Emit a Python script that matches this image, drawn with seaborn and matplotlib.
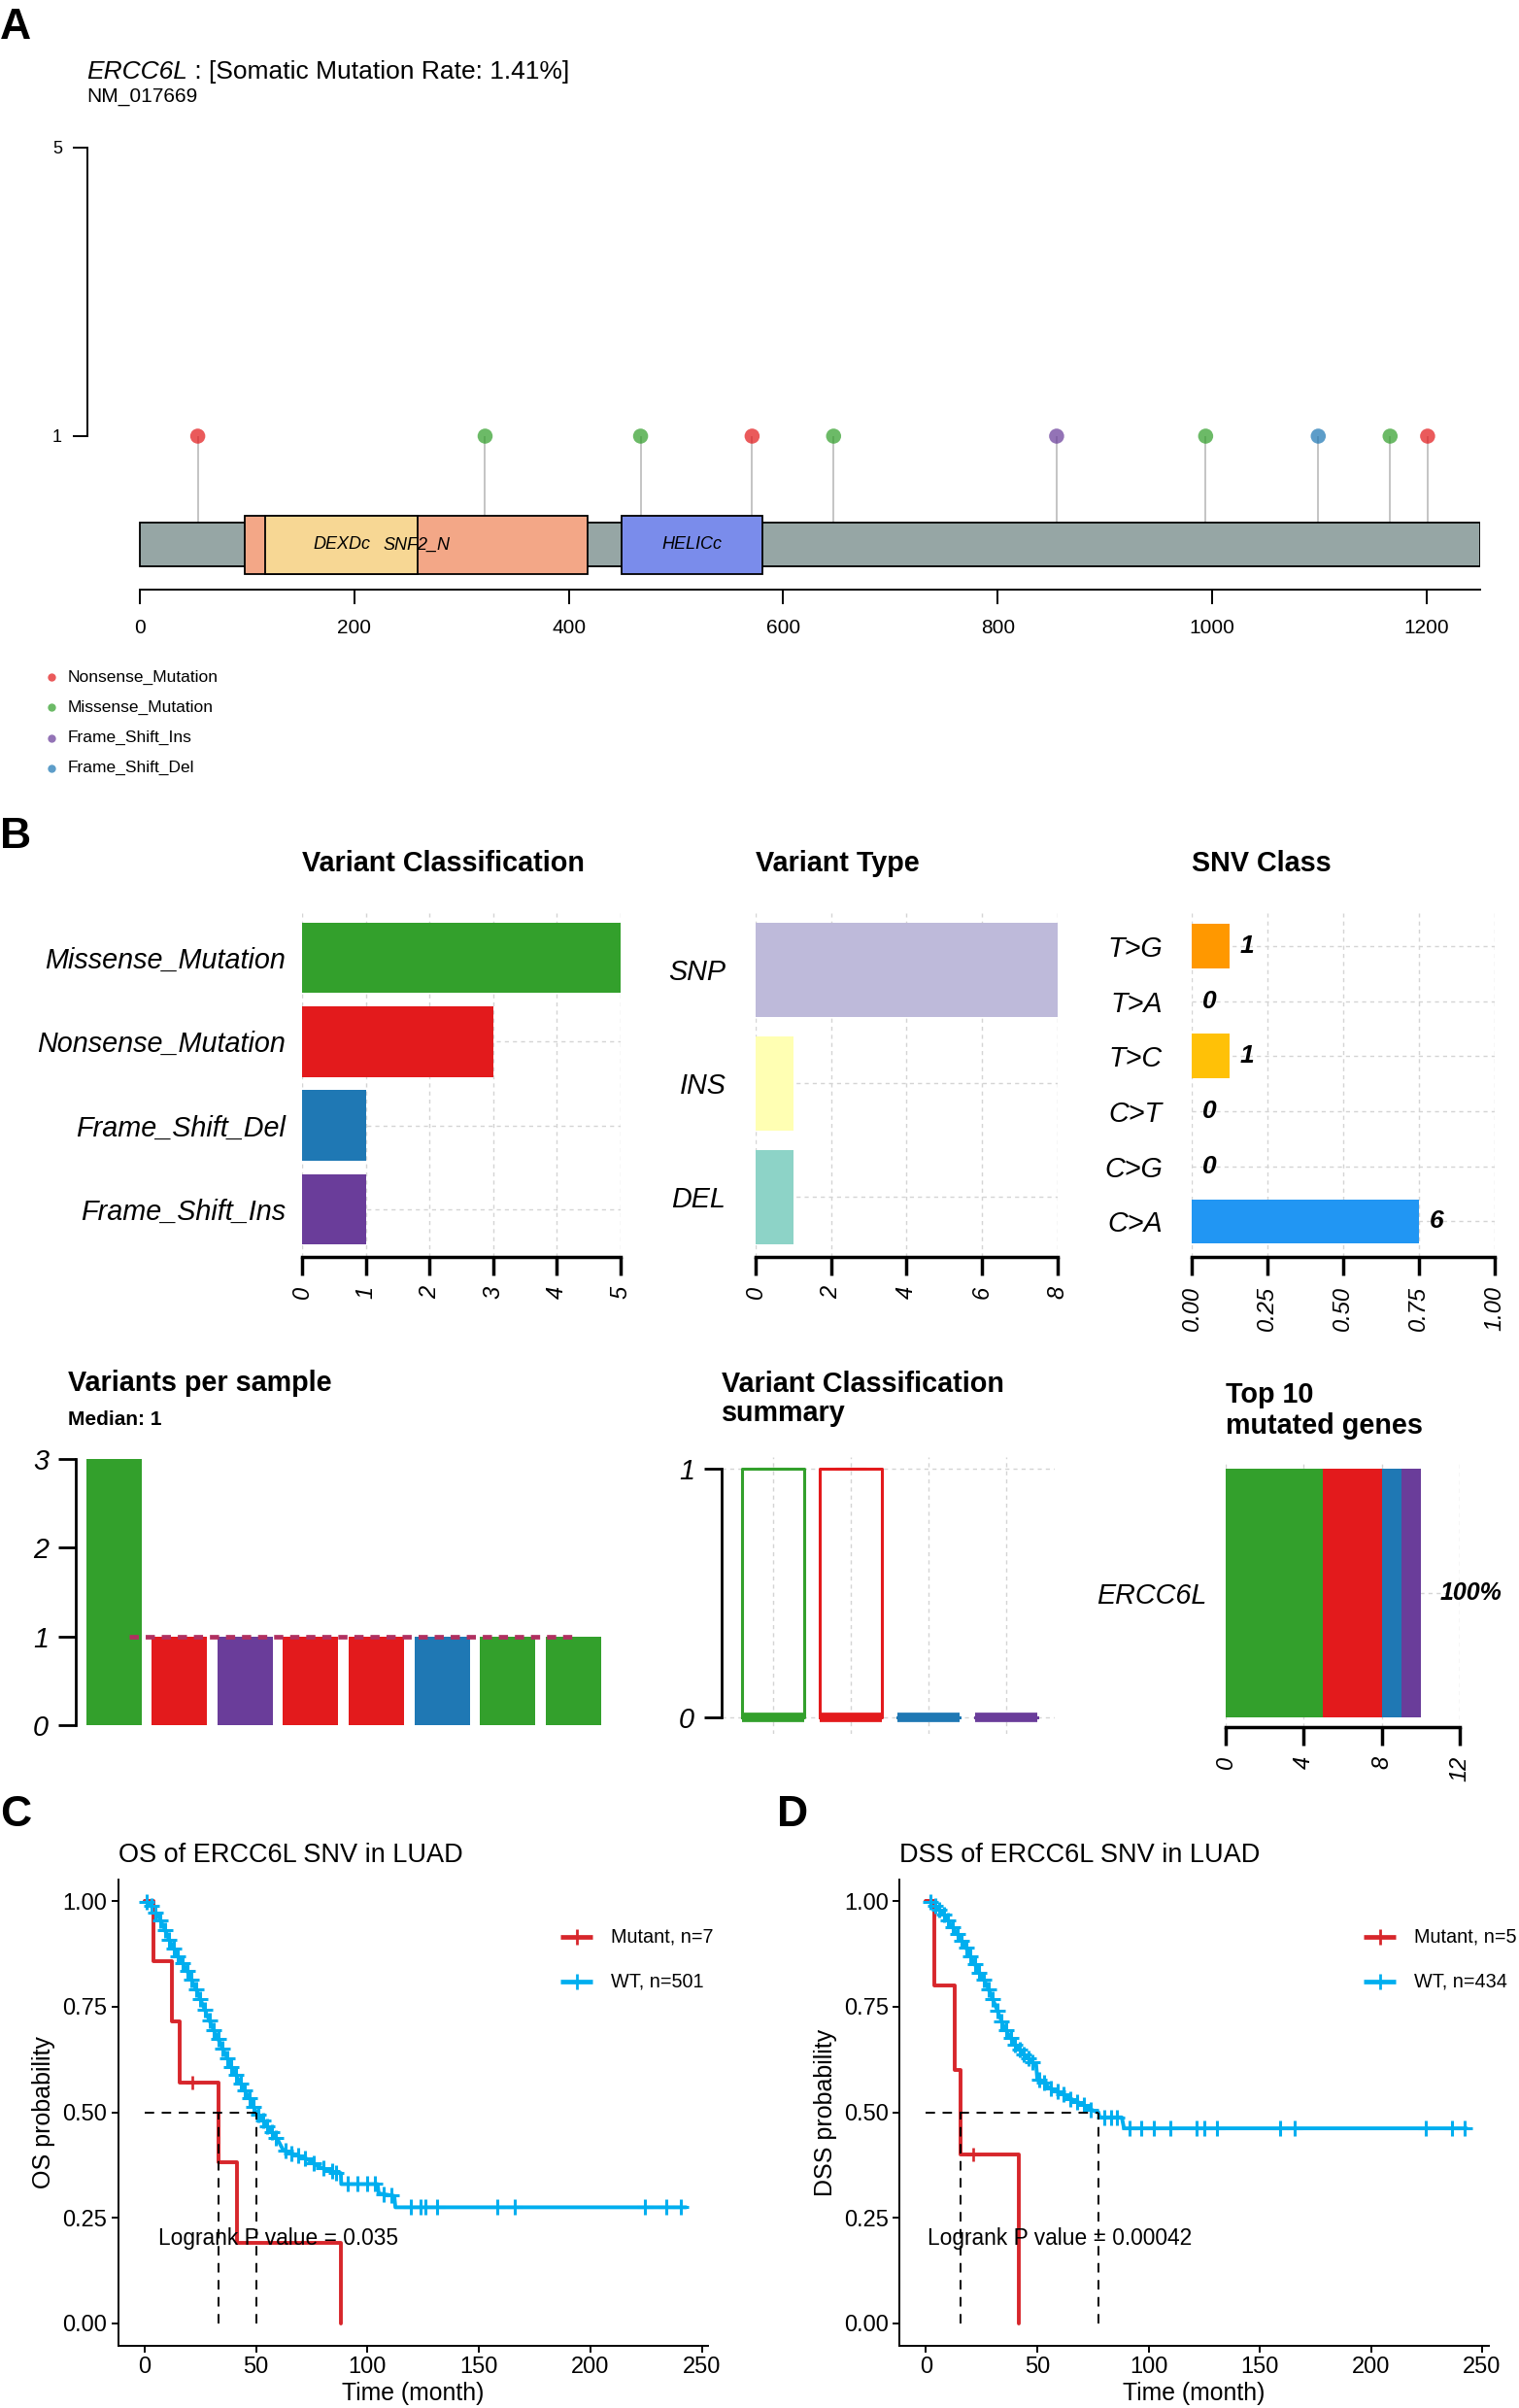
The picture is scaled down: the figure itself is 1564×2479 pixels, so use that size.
import matplotlib
matplotlib.use("Agg")
import matplotlib.pyplot as plt
from matplotlib.patches import Rectangle
import numpy as np
import pandas as pd
import seaborn as sns

W, H = 1564, 2479

# ---------------------------------------------------------------------------
# data
# ---------------------------------------------------------------------------
prot_len = 1250
dom_names = ["SNF2_N", "DEXDc", "HELICc"]
dom_start = [98, 117, 449]
dom_end = [418, 259, 581]
dom_cols = ["#F3A787", "#F7D794", "#7A8CEB"]

mut_pos = [54, 322, 467, 571, 647, 855, 994, 1099, 1166, 1201]
mut_cls = ["Nonsense_Mutation", "Missense_Mutation", "Missense_Mutation",
           "Nonsense_Mutation", "Missense_Mutation", "Frame_Shift_Ins",
           "Missense_Mutation", "Frame_Shift_Del", "Missense_Mutation",
           "Nonsense_Mutation"]
mut_n = [1, 1, 1, 1, 1, 1, 1, 1, 1, 1]
legend_cls = ["Nonsense_Mutation", "Missense_Mutation", "Frame_Shift_Ins", "Frame_Shift_Del"]

cls_colors = {"Missense_Mutation": "#33A02C", "Nonsense_Mutation": "#E31A1C",
              "Frame_Shift_Del": "#1F78B4", "Frame_Shift_Ins": "#6A3D9A"}

vc_names = ["Missense_Mutation", "Nonsense_Mutation", "Frame_Shift_Del", "Frame_Shift_Ins"]
vc_counts = [5, 3, 1, 1]

vt_names = ["SNP", "INS", "DEL"]
vt_counts = [8, 1, 1]
vt_cols = ["#BEBADA", "#FFFFB3", "#8DD3C7"]

snv_names = ["T>G", "T>A", "T>C", "C>T", "C>G", "C>A"]
snv_counts = [1, 0, 1, 0, 0, 6]
snv_cols = ["#FF9800", "#795548", "#FFC107", "#F44336", "#9C27B0", "#2196F3"]

samples = ["S1", "S2", "S3", "S4", "S5", "S6", "S7", "S8"]
smp_missense = [3, 0, 0, 0, 0, 0, 1, 1]
smp_nonsense = [0, 1, 0, 1, 1, 0, 0, 0]
smp_del = [0, 0, 0, 0, 0, 1, 0, 0]
smp_ins = [0, 0, 1, 0, 0, 0, 0, 0]

gene = "ERCC6L"

# survival: mutant groups as raw times / events, WT curves
os_mut_time = [4.0, 12.0, 15.7, 21.3, 33.3, 41.3, 88.1]
os_mut_event = [1, 1, 1, 0, 1, 1, 1]
os_wt_t = [0, 2, 4, 6, 8, 10, 12, 14, 16, 18, 20, 22, 24, 26, 28, 30, 32, 34, 36, 38,
           40, 42, 44, 46, 48, 50, 52, 54, 56, 58, 60, 62, 65, 68, 72, 75, 78, 82, 85,
           88, 88.2, 104.5, 105, 112, 112.5, 243]
os_wt_s = [1.0, 0.995, 0.98, 0.965, 0.945, 0.92, 0.898, 0.878, 0.862, 0.845, 0.825,
           0.803, 0.78, 0.755, 0.73, 0.706, 0.684, 0.662, 0.64, 0.617, 0.597, 0.578,
           0.56, 0.542, 0.525, 0.50, 0.487, 0.474, 0.46, 0.448, 0.432, 0.412, 0.404,
           0.399, 0.392, 0.382, 0.372, 0.362, 0.358, 0.356, 0.33, 0.33, 0.308, 0.302,
           0.275, 0.275]
os_wt_cens_t = [1, 3, 5, 7, 9, 11, 13, 15, 17, 19, 21, 23, 25, 27, 29, 31, 33, 35, 37,
                39, 41, 43, 45, 47, 49, 51, 53, 55, 57, 59, 63, 66, 69, 72, 76, 80, 84,
                86, 91.2, 95.5, 99.9, 103.1, 107.4, 110.7, 119.4, 123.7, 125.9, 131.3,
                158.3, 165.9, 224.4, 234.2, 240.7]
os_wt_cens_s = [0.998, 0.988, 0.972, 0.955, 0.932, 0.909, 0.888, 0.87, 0.853, 0.835,
                0.814, 0.792, 0.768, 0.743, 0.718, 0.695, 0.673, 0.651, 0.628, 0.607,
                0.588, 0.569, 0.551, 0.534, 0.512, 0.494, 0.48, 0.467, 0.454, 0.44,
                0.41, 0.402, 0.397, 0.392, 0.379, 0.367, 0.36, 0.357, 0.33, 0.33, 0.33,
                0.33, 0.306, 0.303, 0.275, 0.275, 0.275, 0.275, 0.275, 0.275, 0.275,
                0.275, 0.275]
os_median = [33.3, 50.0]

dss_mut_time = [3.9, 12.7, 15.5, 21.4, 41.5]
dss_mut_event = [1, 1, 1, 0, 1]
dss_wt_t = [0, 3, 5, 7, 9, 11, 13, 15, 17, 19, 21, 23, 25, 27, 29, 31, 33, 35, 37, 39,
            41, 43, 45, 47, 49.5, 50, 52, 55, 58, 61, 64, 67, 70, 73, 76, 77.5, 78, 88,
            89, 243]
dss_wt_s = [1.0, 0.995, 0.985, 0.975, 0.962, 0.945, 0.93, 0.915, 0.898, 0.88, 0.86,
            0.84, 0.822, 0.805, 0.78, 0.755, 0.728, 0.703, 0.685, 0.668, 0.655, 0.643,
            0.632, 0.622, 0.612, 0.58, 0.575, 0.56, 0.552, 0.545, 0.535, 0.527, 0.52,
            0.51, 0.502, 0.5, 0.488, 0.488, 0.462, 0.462]
dss_wt_cens_t = [2, 4, 6, 8, 10, 12, 14, 16, 18, 20, 22, 24, 26, 28, 30, 32, 34, 36, 38,
                 40, 42, 44, 46, 48, 51, 53, 56, 59, 62, 65, 68, 71, 74, 80, 83, 86,
                 91.3, 96.7, 102.2, 109.8, 121.8, 125.1, 130.6, 159.0, 165.5, 224.5,
                 236.5, 242]
dss_wt_cens_s = [0.998, 0.99, 0.98, 0.968, 0.954, 0.938, 0.922, 0.906, 0.889, 0.87,
                 0.85, 0.831, 0.813, 0.792, 0.767, 0.741, 0.715, 0.694, 0.676, 0.661,
                 0.649, 0.637, 0.627, 0.618, 0.578, 0.57, 0.557, 0.55, 0.542, 0.532,
                 0.525, 0.517, 0.507, 0.488, 0.488, 0.488, 0.462, 0.462, 0.462, 0.462,
                 0.462, 0.462, 0.462, 0.462, 0.462, 0.462, 0.462, 0.462]
dss_median = [15.5, 77.5]

RED = "#D7262B"
BLUE = "#00AEEF"

# ---------------------------------------------------------------------------
sns.set_style("white")
plt.rcParams["font.family"] = ["Liberation Sans", "DejaVu Sans"]
plt.rcParams.update({"axes.edgecolor": "black", "xtick.color": "black",
                     "ytick.color": "black", "text.color": "black",
                     "axes.labelcolor": "black"})

fig = plt.figure(figsize=(W / 100, H / 100), dpi=100)


def add_ax(l, t, r, b):
    return fig.add_axes([l / W, 1 - b / H, (r - l) / W, (b - t) / H])


def km_steps(times, events):
    xs, ys, cx, cy = [0.0], [1.0], [], []
    s, at_risk = 1.0, len(times)
    for t, e in sorted(zip(times, events)):
        if e:
            xs.append(t); ys.append(s)
            s = s * (at_risk - 1) / at_risk
            xs.append(t); ys.append(s)
        else:
            cx.append(t); cy.append(s)
        at_risk -= 1
    return xs, ys, cx, cy


# ---- A. lollipop ----
axA = add_ax(90, 152, 1524, 607)
axA.vlines(mut_pos, -0.2, mut_n, color="#C4C4C4", lw=1.4, zorder=1)
axA.add_patch(Rectangle((0, -0.805), prot_len, 0.605, fc="#96A6A5", ec="black",
                        lw=1.3, zorder=2))
for s, e, c in zip(dom_start, dom_end, dom_cols):
    axA.add_patch(Rectangle((s, -0.912), e - s, 0.808, fc=c, ec="black", lw=1.3, zorder=3))
for name, s, e in zip(dom_names, dom_start, dom_end):
    axA.text((s + e) / 2, -0.508, name, style="italic", ha="center", va="center",
             fontsize=13, zorder=4)
sns.scatterplot(x=mut_pos, y=mut_n, hue=mut_cls, palette=cls_colors, s=125, alpha=0.72,
                linewidth=0, legend=False, ax=axA, zorder=5)
axA.set_xlim(-48.9, prot_len)
axA.set_ylim(-1.128, 5)
for sp in ["top", "right"]:
    axA.spines[sp].set_visible(False)
axA.spines["left"].set_bounds(1, 5)
axA.spines["bottom"].set_bounds(0, prot_len)
for sp in ["left", "bottom"]:
    axA.spines[sp].set_linewidth(1.4)
axA.set_xticks(range(0, 1201, 200))
axA.set_yticks([1, 5])
axA.tick_params(axis="x", bottom=True, direction="out", length=10.8, width=1.4,
                labelsize=15, pad=11)
axA.tick_params(axis="y", left=True, direction="out", length=10.8, width=1.4,
                labelsize=13, pad=8)
axA.set_xlabel(""); axA.set_ylabel("")


# ---- B. upper bar charts ----
def bar_style(ax, xmax, xticks, xlabels, ypad):
    for sp in ["top", "right", "left"]:
        ax.spines[sp].set_visible(False)
    ax.spines["bottom"].set_linewidth(2.5)
    ax.spines["bottom"].set_bounds(0, xmax)
    ax.set_xlim(0, xmax)
    ax.set_xticks(xticks)
    ax.set_xticklabels(xlabels, rotation=90, fontstyle="italic", fontsize=17)
    ax.tick_params(axis="x", bottom=True, direction="out", length=13.7, width=2.5, pad=8)
    ax.tick_params(axis="y", left=False, length=0, pad=ypad, labelsize=20.7)
    for t in ax.get_yticklabels():
        t.set_fontstyle("italic")
    ax.grid(True, ls=(0, (3, 3)), color="#D4D4D4", lw=1.0)
    ax.set_axisbelow(True)
    ax.set_xlabel(""); ax.set_ylabel("")


axVC = add_ax(311, 940, 639, 1294)
sns.barplot(x=vc_counts, y=vc_names, hue=vc_names, palette=cls_colors, orient="h",
            width=0.84, saturation=1, linewidth=0, legend=False, ax=axVC)
bar_style(axVC, 5, range(6), [str(i) for i in range(6)], 12)
axVC.set_ylim(3.569, -0.533)

axVT = add_ax(778, 940, 1088.5, 1294)
sns.barplot(x=vt_counts, y=vt_names, hue=vt_names, palette=vt_cols, orient="h",
            width=0.83, saturation=1, linewidth=0, legend=False, ax=axVT)
bar_style(axVT, 8, range(0, 9, 2), [str(i) for i in range(0, 9, 2)], 22)
axVT.set_ylim(2.526, -0.5)

snv_frac = np.array(snv_counts) / sum(snv_counts)
axSNV = add_ax(1227, 940, 1538.6, 1294)
sns.barplot(x=snv_frac, y=snv_names, hue=snv_names, palette=snv_cols, orient="h",
            width=0.81, saturation=1, linewidth=0, legend=False, ax=axSNV)
bar_style(axSNV, 1, [0, 0.25, 0.5, 0.75, 1.0], ["0.00", "0.25", "0.50", "0.75", "1.00"], 21.6)
axSNV.set_ylim(5.644, -0.6)
for i, (f, n) in enumerate(zip(snv_frac, snv_counts)):
    axSNV.annotate(str(n), (f, i), xytext=(8, 0), textcoords="offset points",
                   ha="left", va="center", fontweight="bold", fontstyle="italic",
                   fontsize=19)

# ---- B. lower row ----
df_smp = pd.DataFrame({"sample": samples,
                       "Missense_Mutation": smp_missense,
                       "Nonsense_Mutation": smp_nonsense,
                       "Frame_Shift_Del": smp_del,
                       "Frame_Shift_Ins": smp_ins})
cum = df_smp[vc_names].cumsum(axis=1)
totals = df_smp[vc_names].sum(axis=1)

axVPS = add_ax(78, 1502, 625, 1776)
for c in reversed(vc_names):
    sns.barplot(x=samples, y=cum[c].values, order=samples, color=cls_colors[c],
                width=0.843, saturation=1, linewidth=0, ax=axVPS)
med = float(np.median(totals))
axVPS.plot([0.24, 7.03], [med, med], ls=(0, (2, 1.5)), color="#B03060", lw=3.4, zorder=5)
axVPS.set_xlim(-0.577, 7.51)
axVPS.set_ylim(0, 3)
for sp in ["top", "right", "bottom"]:
    axVPS.spines[sp].set_visible(False)
axVPS.spines["left"].set_linewidth(2)
axVPS.spines["left"].set_bounds(0, 3)
axVPS.set_yticks([0, 1, 2, 3])
axVPS.set_xticks([])
axVPS.tick_params(axis="y", left=True, direction="out", length=13, width=2,
                  labelsize=20.7, pad=7)
for t in axVPS.get_yticklabels():
    t.set_fontstyle("italic")
axVPS.set_xlabel(""); axVPS.set_ylabel("")

df_long = df_smp.melt(id_vars="sample", value_vars=vc_names, var_name="cls", value_name="n")
axVCS = add_ax(743, 1500, 1086, 1785)
sns.boxplot(data=df_long, x="cls", y="n", hue="cls", order=vc_names, hue_order=vc_names,
            palette=cls_colors, fill=False, width=0.8, linewidth=2.2, showfliers=False,
            medianprops={"linewidth": 7}, legend=False, ax=axVCS)
axVCS.set_xlim(-0.66, 3.625)
axVCS.set_ylim(-0.066, 1.047)
for sp in ["top", "right", "bottom"]:
    axVCS.spines[sp].set_visible(False)
axVCS.spines["left"].set_linewidth(2)
axVCS.spines["left"].set_bounds(0, 1)
axVCS.set_yticks([0, 1])
axVCS.set_xticklabels([])
axVCS.tick_params(axis="x", length=0)
axVCS.tick_params(axis="y", left=True, direction="out", length=13, width=2,
                  labelsize=20.7, pad=7)
for t in axVCS.get_yticklabels():
    t.set_fontstyle("italic")
axVCS.grid(True, ls=(0, (3, 3)), color="#D4D4D4", lw=1.0)
axVCS.set_axisbelow(True)
axVCS.set_xlabel(""); axVCS.set_ylabel("")

gene_cum = np.cumsum(vc_counts)
axTop = add_ax(1262, 1505, 1503, 1778)
for c, v in reversed(list(zip(vc_names, gene_cum))):
    sns.barplot(x=[v], y=[gene], orient="h", color=cls_colors[c], width=0.8,
                saturation=1, linewidth=0, ax=axTop)
bar_style(axTop, 12, [0, 4, 8, 12], ["0", "4", "8", "12"], 13.7)
axTop.set_ylim(0.431, -0.422)
pct = 100 * sum(t > 0 for t in totals) / len(samples)
axTop.annotate(f"{pct:.0f}%", (gene_cum[-1], 0), xytext=(14, 0), textcoords="offset points",
               ha="left", va="center", fontweight="bold", fontstyle="italic", fontsize=18)


# ---- C / D. Kaplan-Meier ----
def km_panel(ax, mut_time, mut_event, wt_t, wt_s, wt_ct, wt_cs, medians, ylab, ptext):
    mx, my, mcx, mcy = km_steps(mut_time, mut_event)
    sns.lineplot(x=wt_t, y=wt_s, sort=False, estimator=None, color=BLUE, lw=2.8, ax=ax)
    sns.scatterplot(x=wt_ct, y=wt_cs, marker="+", s=130, color=BLUE, linewidth=2.2, ax=ax,
                    zorder=3)
    sns.lineplot(x=mx, y=my, sort=False, estimator=None, color=RED, lw=2.8, ax=ax)
    sns.scatterplot(x=mcx, y=mcy, marker="+", s=110, color=RED, linewidth=1.9, ax=ax,
                    zorder=4)
    ax.text(60, 0.2, ptext, ha="center", va="center", fontsize=16.4, zorder=5)
    ax.plot([0, max(medians)], [0.5, 0.5], ls=(0, (5, 4)), color="black", lw=1.4, zorder=6)
    for m in medians:
        ax.plot([m, m], [0, 0.5], ls=(0, (5, 4)), color="black", lw=1.4, zorder=6)
    ax.set_xlim(-12, 253)
    ax.set_ylim(-0.053, 1.051)
    ax.set_xticks([0, 50, 100, 150, 200, 250])
    ax.set_yticks([0, 0.25, 0.5, 0.75, 1.0])
    ax.set_yticklabels(["0.00", "0.25", "0.50", "0.75", "1.00"])
    for sp in ["top", "right"]:
        ax.spines[sp].set_visible(False)
    for sp in ["left", "bottom"]:
        ax.spines[sp].set_linewidth(1.4)
    ax.tick_params(axis="both", bottom=True, left=True, direction="out", length=5,
                   width=1.4, labelsize=17, pad=3)
    ax.set_xlabel("Time (month)", fontsize=17.8, labelpad=3)
    ax.set_ylabel(ylab, fontsize=18, labelpad=5)


axC = add_ax(121.5, 1935, 729.4, 2415)
km_panel(axC, os_mut_time, os_mut_event, os_wt_t, os_wt_s, os_wt_cens_t, os_wt_cens_s,
         os_median, "OS probability", "Logrank P value = 0.035")
axD = add_ax(926, 1935, 1532.9, 2415)
km_panel(axD, dss_mut_time, dss_mut_event, dss_wt_t, dss_wt_s, dss_wt_cens_t,
         dss_wt_cens_s, dss_median, "DSS probability", "Logrank P value = 0.00042")

# ---------------------------------------------------------------------------
# overlay (pixel coordinates) for titles, letters and legends
# ---------------------------------------------------------------------------
ov = fig.add_axes([0, 0, 1, 1])
ov.set_xlim(0, W); ov.set_ylim(H, 0)
ov.axis("off"); ov.patch.set_alpha(0)

for lab, x, y in [("A", 0, 40), ("B", 0, 873), ("C", 0, 1880), ("D", 800, 1880)]:
    ov.text(x, y, lab, fontsize=32, fontweight="bold", va="baseline")

t1 = ov.text(89, 81, gene, fontsize=19, style="italic", va="baseline")
fig.canvas.draw()
w1 = t1.get_window_extent(fig.canvas.get_renderer()).width
ov.text(89 + w1, 81, " : [Somatic Mutation Rate: 1.41%]", fontsize=19, va="baseline")
ov.text(89, 105, "NM_017669", fontsize=15, va="baseline")

for i, c in enumerate(legend_cls):
    y = 697 + 31.3 * i
    ov.plot([53], [y], "o", ms=6, color=cls_colors[c], alpha=0.72, mew=0)
    ov.text(70, y, c, fontsize=12.5, va="center")

for txt, x, y in [("Variant Classification", 311, 897), ("Variant Type", 778, 897),
                  ("SNV Class", 1227, 897), ("Variants per sample", 70, 1432),
                  ("Variant Classification", 743, 1433), ("summary", 743, 1463),
                  ("Top 10", 1262, 1444), ("mutated genes", 1262, 1476)]:
    ov.text(x, y, txt, fontsize=20.7, fontweight="bold", va="baseline")
ov.text(70, 1467, f"Median: {med:.0f}", fontsize=15, fontweight="bold", va="baseline")

ov.text(122, 1917, "OS of ERCC6L SNV in LUAD", fontsize=19.5, va="baseline")
ov.text(926.5, 1917, "DSS of ERCC6L SNV in LUAD", fontsize=19.5, va="baseline")

for x0, labels in [(577, ["Mutant, n=7", "WT, n=501"]), (1404, ["Mutant, n=5", "WT, n=434"])]:
    for lab, y, col in zip(labels, [1994, 2040], [RED, BLUE]):
        ov.plot([x0, x0 + 33], [y, y], color=col, lw=3.4, solid_capstyle="butt")
        ov.plot([x0 + 16.5], [y], marker="+", ms=11, mew=2.0, color=col)
        ov.text(x0 + 52, y, lab, fontsize=14.3, va="center")

fig.savefig("out.png", dpi=100)
